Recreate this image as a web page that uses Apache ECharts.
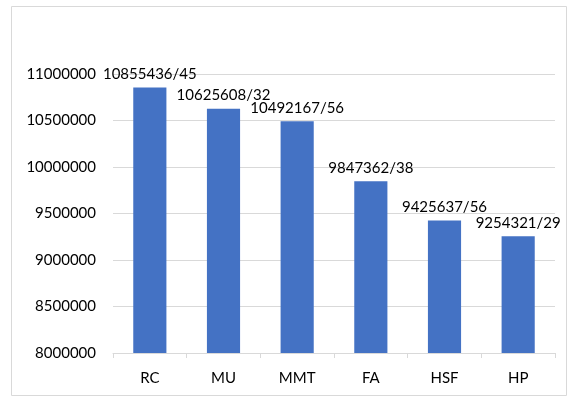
<!DOCTYPE html>
<html><head><meta charset="utf-8">
<script src="https://cdn.jsdelivr.net/npm/echarts@6/dist/echarts.min.js"></script>
<style>html,body{margin:0;padding:0;background:#fff}#c{width:578px;height:403px}</style>
</head><body><div id="c"></div>
<script>
const categories = ['RC','MU','MMT','FA','HSF','HP'];
const values = [10855436,10625608,10492167,9847362,9425637,9254321];
const suffixes = ['45','32','56','38','56','29'];
const yMin = 8000000, yMax = 11000000, yStep = 500000;

const chart = echarts.init(document.getElementById('c'));
chart.setOption({
  animation:false,
  graphic:[{type:'rect',shape:{x:11.5,y:6.5,width:555,height:389},style:{fill:'none',stroke:'#d9d9d9',lineWidth:1}}],
  grid:{left:113,right:23,top:74,bottom:50},
  xAxis:{type:'category',data:categories,
    axisLine:{lineStyle:{color:'#d9d9d9'}},
    axisTick:{show:true,length:5,lineStyle:{color:'#d9d9d9'}},
    axisLabel:{color:'#000',fontFamily:'Lato',fontSize:15,margin:18}},
  yAxis:{type:'value',min:yMin,max:yMax,interval:yStep,
    axisLine:{show:false},axisTick:{show:false},
    splitLine:{lineStyle:{color:'#d9d9d9'}},
    axisLabel:{color:'#000',fontFamily:'Lato',fontSize:15,margin:17,formatter:v=>String(v)}},
  series:[{type:'bar',data:values,barWidth:'45%',itemStyle:{color:'#4472C4'},
    label:{show:true,position:'top',distance:6,color:'#000',fontFamily:'Lato',fontSize:15,
      formatter:p=>p.value+'/'+suffixes[p.dataIndex]}}]
});
</script></body></html>
